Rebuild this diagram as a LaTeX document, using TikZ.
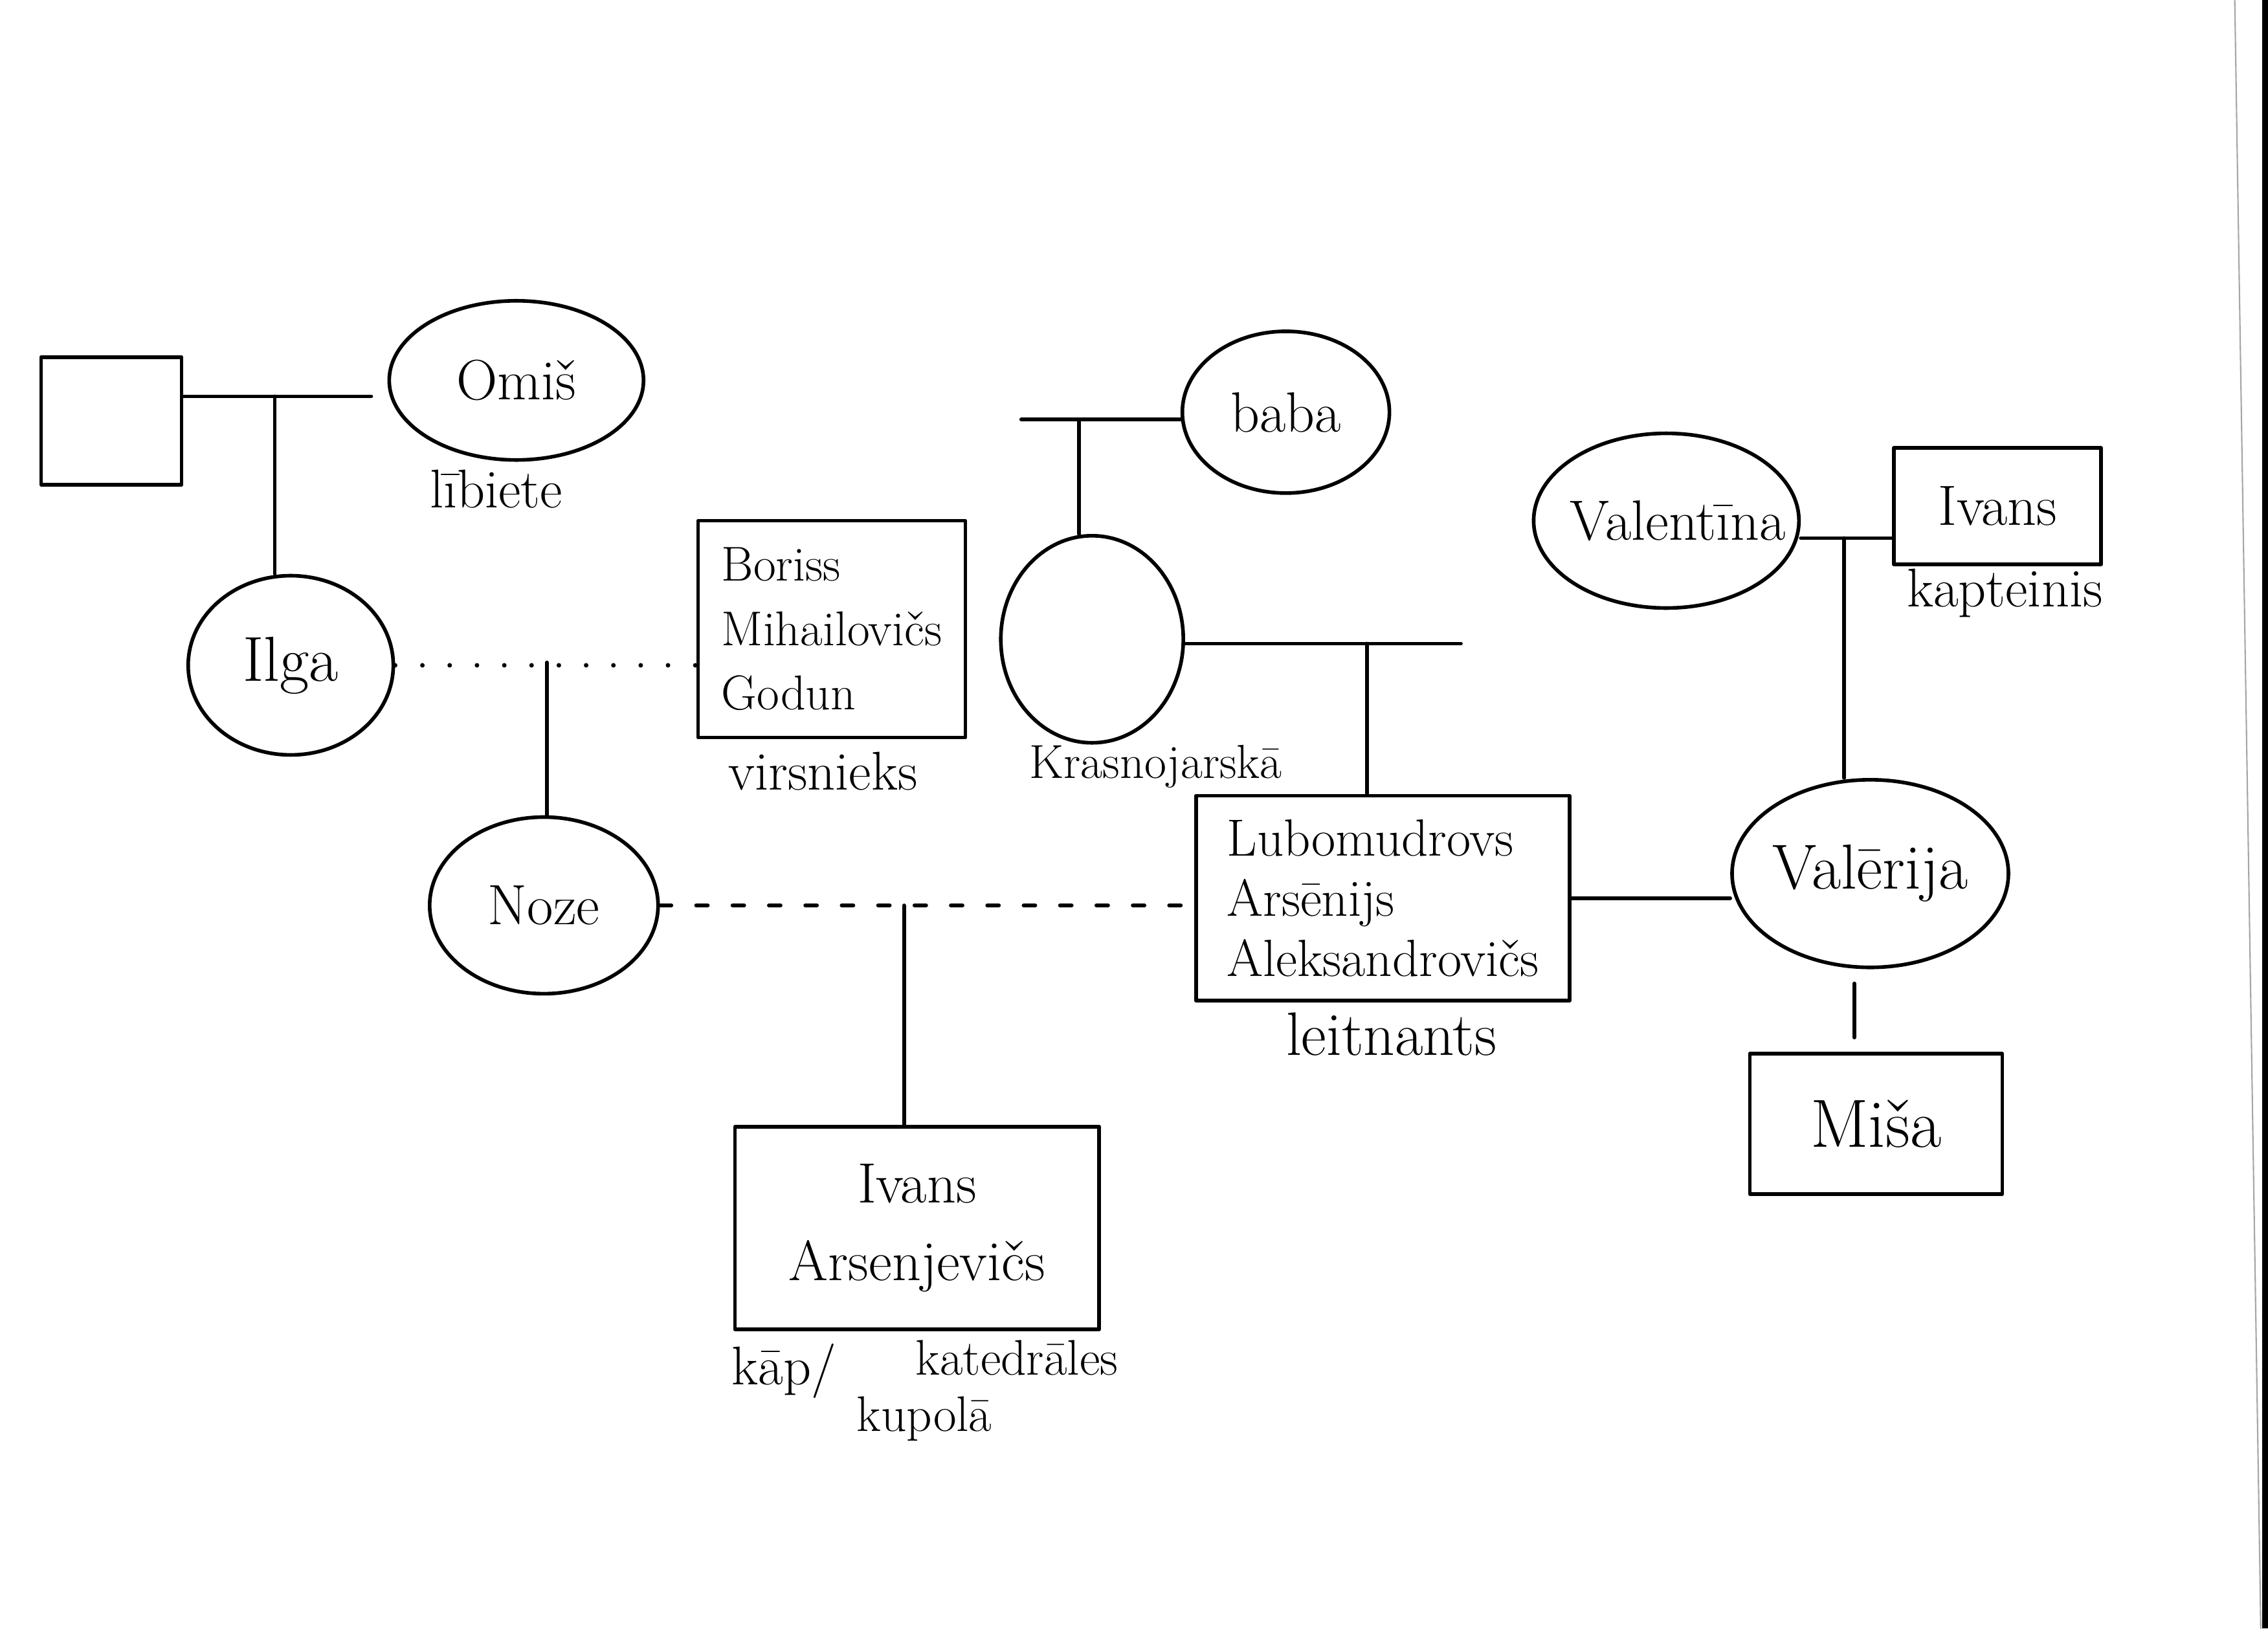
\documentclass[tikz,border=0pt]{standalone}
\usepackage{fontspec}
\usetikzlibrary{shapes.geometric}
\newcommand{\namefnt}{\fontsize{25pt}{30pt}\selectfont}
\newcommand{\boxfnt}{\fontsize{21.5pt}{28.3pt}\selectfont}
\newcommand{\lblfnt}{\fontsize{24pt}{28pt}\selectfont}
\begin{document}
\begin{tikzpicture}[x=0.022347cm,y=-0.022347cm, line width=1.6pt, line cap=round, line join=round,
  fem/.style={draw, ellipse, inner sep=0pt, font=\namefnt},
  masc/.style={draw, rectangle, inner sep=0pt, font=\boxfnt},
  lbl/.style={inner sep=0pt, font=\lblfnt},
  dotline/.style={line width=2pt, dash pattern=on 0pt off 12pt},
  dashline/.style={line width=1.8pt, dash pattern=on 5pt off 11pt}]
\useasboundingbox (0,0) rectangle (1568,1126);
\fill[white] (0,0) rectangle (1568,1126);
% scan edge
\draw[gray!70, line width=0.6pt] (1545,0) -- (1563,1126);
\fill[black] (1564,0) rectangle (1568,1126);

% people
\node[masc, minimum width=2.17cm, minimum height=1.97cm] (sq) at (77,291) {};
\node[fem, minimum width=3.93cm, minimum height=2.46cm] (omis) at (357,263) {Omiš};
\node[lbl] (omisl) at (343,338) {lībiete};
\node[fem, minimum width=3.17cm, minimum height=2.77cm, font=\fontsize{28pt}{32pt}\selectfont] (ilga) at (201,460) {Ilga};
\node[masc, minimum width=4.13cm, minimum height=3.35cm, align=left] (boris) at (575,435) {Boriss\\Mihailovičs\\Godun};
\node[lbl] (borisl) at (569,533) {virsnieks};
\node[fem, minimum width=3.53cm, minimum height=2.73cm] (noze) at (376,626) {Noze};
\node[masc, minimum width=5.63cm, minimum height=3.13cm, align=center, font=\fontsize{25pt}{34pt}\selectfont] (ivana) at (634,849) {Ivans\\Arsenjevičs};
\node[lbl] (kap) at (542,948) {kāp/};
\node[lbl, font=\fontsize{22pt}{24pt}\selectfont] (kat) at (703,939) {katedrāles};
\node[lbl, font=\fontsize{22pt}{24pt}\selectfont] (kup) at (639,981) {kupolā};
\node[fem, minimum width=3.2cm, minimum height=2.5cm] (baba) at (889,285) {baba};
\node[fem, minimum width=2.82cm, minimum height=3.2cm] (mom) at (755,442) {};
\node[lbl, font=\fontsize{21pt}{24pt}\selectfont] (kras) at (799,530) {Krasnojarskā};
\node[masc, minimum width=5.77cm, minimum height=3.17cm, align=left, font=\fontsize{23pt}{26.5pt}\selectfont] (lub) at (956,621) {Lubomudrovs\\Arsēnijs\\Aleksandrovičs};
\node[lbl, font=\fontsize{27pt}{30pt}\selectfont] (lubl) at (962,715) {leitnants};
\node[fem, minimum width=4.16cm, minimum height=2.9cm, font=\fontsize{28pt}{32pt}\selectfont] (val) at (1293,604) {Valērija};
\node[masc, minimum width=3.9cm, minimum height=2.17cm, font=\fontsize{30pt}{34pt}\selectfont] (misa) at (1297,777) {Miša};
\node[fem, minimum width=4.1cm, minimum height=2.7cm,
      label={[font=\namefnt, inner sep=0pt, xshift=0.18cm]center:Valentīna}] (valen) at (1152,360) {};
\node[masc, minimum width=3.2cm, minimum height=1.8cm, font=\namefnt] (ivank) at (1381,350) {Ivans};
\node[lbl] (ivankl) at (1386,410) {kapteinis};

% junction points
\coordinate (m1) at (190,274);
\coordinate (m2) at (378,458);
\coordinate (m3) at (625,626);
\coordinate (bl) at (706,290);
\coordinate (m4) at (746,290);
\coordinate (ml) at (1010,445);
\coordinate (m5) at (945,445);
\coordinate (m6) at (1275,372);
\coordinate (m7) at (1282,700);

% connectors
\draw[shorten >=0.25cm] (sq.east |- m1) -- (omis.west |- m1);
\draw (m1) -- (m1 |- ilga.north);
\draw[dotline] (ilga.east) -- (boris.west |- ilga.east);
\draw (m2) -- (m2 |- noze.north);
\draw[dashline] (noze.east) -- (lub.west |- noze.east);
\draw (m3) -- (m3 |- ivana.north);
\draw (bl) -- (baba.west |- bl);
\draw (m4) -- (m4 |- mom.north);
\draw (mom.east |- ml) -- (ml);
\draw (m5) -- (m5 |- lub.north);
\draw (lub.east) -- (val.west |- lub.east);
\draw (valen.east |- m6) -- (ivank.west |- m6);
\draw (m6) -- (m6 |- val.north);
\draw[shorten <=0.22cm, shorten >=0.22cm] (m7 |- val.south) -- (m7 |- misa.north);
\end{tikzpicture}
\end{document}
